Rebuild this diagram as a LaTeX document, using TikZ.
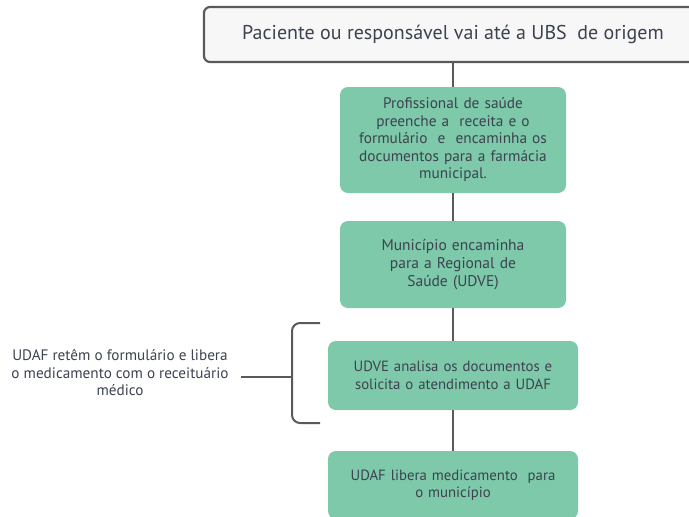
\documentclass[tikz,border=0pt]{standalone}
\usepackage{fontspec}
\setmainfont{PT Sans}
\usepackage{xcolor}
\usetikzlibrary{positioning}
\definecolor{boxgreen}{HTML}{7DC9A9}
\definecolor{linegray}{HTML}{5A5A5A}
\definecolor{txtgray}{HTML}{3C4250}

\begin{document}
\begin{tikzpicture}[x=1pt,y=1pt,
        topbox/.style={draw=linegray,line width=2.2pt,fill=gray!6,rounded corners=6pt,
            text=txtgray,font=\fontsize{20}{22}\selectfont},
        stepbox/.style={fill=boxgreen,rounded corners=8pt,align=center,
            text=txtgray,font=\fontsize{14.8}{17.5}\selectfont},
        link/.style={draw=linegray,line width=2.5pt}]
        \useasboundingbox (0,0) rectangle (689,-517);
        % main column
        \node[topbox,minimum width=498,minimum height=55] (ubs) at (453,-34.5)
            {Paciente ou responsável vai até a UBS\ \ de origem};
        \node[stepbox,minimum width=226,minimum height=106,text width=212,
            font=\fontsize{15.3}{17.5}\selectfont] (prof) at (453,-140)
            {Profissional de saúde\\ preenche a\ \ receita e o\\ formulário\ \ e\ \ encaminha os\\ documentos para a farmácia\\ municipal.};
        \node[stepbox,minimum width=226,minimum height=87,text width=212,
            font=\fontsize{15.5}{18}\selectfont] (mun) at (453,-264.5)
            {Município encaminha\\ para a Regional de\\ Saúde (UDVE)};
        \node[stepbox,minimum width=250,minimum height=69,text width=236] (udve) at (453,-375.5)
            {UDVE analisa os documentos e\\ solicita o atendimento a UDAF};
        \node[stepbox,minimum width=250,minimum height=68,text width=236] (lib) at (453,-485)
            {UDAF libera medicamento\ \ para\\ o município};
        \draw[link] (ubs) -- (prof);
        \draw[link] (prof) -- (mun);
        \draw[link] (mun) -- (udve);
        \draw[link] (udve) -- (lib);
        % side note
        \node[align=center,text=txtgray,font=\fontsize{15.2}{17.5}\selectfont,inner sep=12pt] (retem) at (120,-373)
            {UDAF retêm o formulário e libera\\ o medicamento com o receituário\\ médico};
        \coordinate (brk) at (292,-377);
        \draw[link,line width=2pt,rounded corners=8pt] (320,-323) -- (292,-323) -- (292,-423) -- (320,-423);
        \draw[link,line width=2pt] (retem.east |- brk) -- (brk);
    \end{tikzpicture}
\end{document}
